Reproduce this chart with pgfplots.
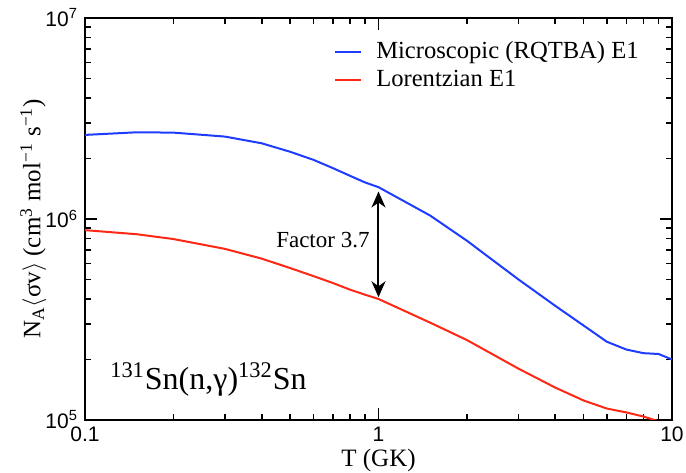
\documentclass[border=0pt]{standalone}
\usepackage{fontspec}
\setmainfont{Liberation Serif}
\setsansfont{Liberation Sans}
\usepackage{pgfplots}
\pgfplotsset{compat=1.18}
\usetikzlibrary{arrows.meta}
\definecolor{cblue}{RGB}{30,60,255}
\definecolor{cred}{RGB}{255,40,20}
\begin{document}
\begin{tikzpicture}
\begin{axis}[
  at={(0,0)}, anchor=south west,
  scale only axis, width=293.5pt, height=201pt,
  xmode=log, ymode=log,
  xmin=0.1, xmax=10, ymin=1e5, ymax=1e7,
  xtick={0.1,1,10}, xticklabels={0.1,1,10},
  minor xtick={0.2,0.3,0.4,0.5,0.6,0.7,0.8,0.9,2,3,4,5,6,7,8,9},
  ytick={1e5,1e6,1e7},
  yticklabels={10\textsuperscript{5},10\textsuperscript{6},10\textsuperscript{7}},
  minor ytick={2e5,3e5,4e5,5e5,6e5,7e5,8e5,9e5,2e6,3e6,4e6,5e6,6e6,7e6,8e6,9e6},
  tick align=inside,
  major tick length=6pt, minor tick length=3pt,
  every tick/.style={black, line width=0.8pt},
  axis line style={line width=1pt},
  ticklabel style={font=\sffamily\fontsize{10.5}{12.5}\selectfont},
  xlabel={T (GK)},
  ylabel={N\textsubscript{A}$\langle$σv$\rangle$ (cm\textsuperscript{3} mol\textsuperscript{−1} s\textsuperscript{−1})},
  label style={font=\fontsize{12.5}{15}\selectfont},
  x label style={at={(axis description cs:0.5,-0.1)}, anchor=center},
  y label style={at={(axis description cs:-0.088,0.5)}, anchor=center},
  legend style={draw=none, fill=none, inner sep=0pt,
    at={(axis description cs:0.424,0.95)}, anchor=north west,
    font=\fontsize{12.3}{15}\selectfont,
    nodes={inner sep=1pt, text height=9pt, text depth=3pt}},
  legend cell align=left,
  legend image code/.code={\draw[#1] (0pt,0pt) -- (13pt,0pt); \path (19pt,0pt);},
]
\addplot[cblue, line width=1pt] coordinates {
 (0.1,2.62e6)(0.15,2.70e6)(0.2,2.69e6)(0.3,2.57e6)(0.4,2.38e6)(0.5,2.16e6)
 (0.6,1.97e6)(0.7,1.79e6)(0.8,1.64e6)(0.9,1.52e6)(1,1.44e6)(1.5,1.04e6)
 (2,7.8e5)(3,5.0e5)(4,3.7e5)(5,2.95e5)(6,2.45e5)(7,2.24e5)(8,2.15e5)
 (9,2.13e5)(10,2.0e5)};
\addlegendentry{Microscopic (RQTBA) E1}
\addplot[cred, line width=1pt] coordinates {
 (0.1,8.8e5)(0.15,8.4e5)(0.2,7.95e5)(0.3,7.1e5)(0.4,6.35e5)(0.5,5.7e5)
 (0.6,5.2e5)(0.7,4.8e5)(0.8,4.45e5)(0.9,4.2e5)(1,4.0e5)(1.5,3.05e5)
 (2,2.5e5)(3,1.8e5)(4,1.45e5)(5,1.25e5)(6,1.14e5)(7,1.09e5)(8,1.04e5)
 (9,0.985e5)(10,0.95e5)};
\addlegendentry{Lorentzian E1}
\draw[line width=1pt, {Stealth[length=8pt,width=7pt,inset=2.5pt]}-{Stealth[length=8pt,width=7pt,inset=2.5pt]}]
  (axis cs:1,1.37e6) -- (axis cs:1,4.08e5);
\node[anchor=east, inner sep=0pt, font=\fontsize{11.5}{14}\selectfont] at (axis cs:0.935,7.87e5) {Factor 3.7};
\node[anchor=base west, inner sep=0pt, font=\fontsize{16}{19}\selectfont] at (axis cs:0.1216,1.41e5)
  {\textsuperscript{131}Sn(n,γ)\textsuperscript{132}Sn};
\end{axis}
\pgfresetboundingbox
\path (-42.5pt,-26pt) rectangle (300.5pt,210pt);
\end{tikzpicture}
\end{document}
